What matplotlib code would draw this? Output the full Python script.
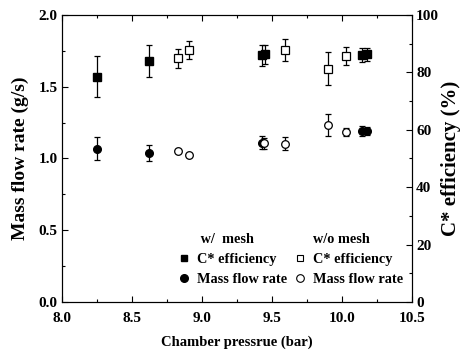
import matplotlib
matplotlib.use("Agg")
import matplotlib.pyplot as plt
from matplotlib.lines import Line2D

plt.rcParams['font.family'] = ['Liberation Serif', 'DejaVu Serif']
plt.rcParams['font.weight'] = 'bold'

# C* efficiency with mesh (%)
p_cw = [8.25, 8.62, 9.43, 9.45, 10.14, 10.18]
c_w = [78.5, 84.0, 86.0, 86.3, 86.0, 86.3]
c_w_err = [7.2, 5.7, 3.6, 3.4, 2.5, 2.3]

# C* efficiency without mesh (%)
p_co = [8.83, 8.91, 9.59, 9.90, 10.03]
c_o = [84.9, 87.8, 87.8, 81.3, 85.6]
c_o_err = [3.4, 3.3, 3.8, 5.8, 3.1]

# Mass flow rate with mesh (g/s)
p_mw = [8.25, 8.62, 9.43, 10.14, 10.18]
m_w = [1.068, 1.038, 1.110, 1.192, 1.192]
m_w_err = [0.080, 0.058, 0.045, 0.035, 0.030]

# Mass flow rate without mesh (g/s)
p_mo = [8.83, 8.91, 9.44, 9.59, 9.90, 10.03]
m_o = [1.052, 1.024, 1.105, 1.103, 1.233, 1.185]
m_o_err = [0.0, 0.0, 0.04, 0.045, 0.078, 0.030]

x_ticks = [8.0, 8.5, 9.0, 9.5, 10.0, 10.5]
x_labels = ['8.0', '8.5', '9.0', '9.5', '10.0', '10.5']
y_ticks = [0.0, 0.5, 1.0, 1.5, 2.0]
y_labels = ['0.0', '0.5', '1.0', '1.5', '2.0']
y2_ticks = [0, 20, 40, 60, 80, 100]
y2_labels = ['0', '20', '40', '60', '80', '100']

fig = plt.figure(figsize=(4.64, 3.59), dpi=100)
ax = fig.add_axes([0.1336, 0.1588, 0.7544, 0.7994])
ax2 = ax.twinx()

ms = 5.5
ekw = dict(ecolor='black', elinewidth=0.9, capsize=2.5, capthick=0.9, linestyle='none')

ax.errorbar(p_mw, m_w, yerr=m_w_err, marker='o', mfc='black', mec='black', ms=ms, **ekw)
ax.errorbar(p_mo, m_o, yerr=m_o_err, marker='o', mfc='white', mec='black', mew=0.9, ms=ms, **ekw)
ax2.errorbar(p_co, c_o, yerr=c_o_err, marker='s', mfc='white', mec='black', mew=0.9, ms=ms, **ekw)
ax2.errorbar(p_cw, c_w, yerr=c_w_err, marker='s', mfc='black', mec='black', ms=ms, **ekw)

ax.set_xticks(x_ticks)
ax.set_xticks([8.25, 8.75, 9.25, 9.75, 10.25], minor=True)
ax.set_xticklabels(x_labels, fontweight='bold')
ax.set_yticks(y_ticks)
ax.set_yticks([0.25, 0.75, 1.25, 1.75], minor=True)
ax.set_yticklabels(y_labels, fontweight='bold')
ax2.set_yticks(y2_ticks)
ax2.set_yticks([10, 30, 50, 70, 90], minor=True)
ax2.set_yticklabels(y2_labels, fontweight='bold')

ax.set_xlim(8.0, 10.5)
ax.set_ylim(0.0, 2.0)
ax2.set_ylim(0, 100)

ax.tick_params(axis='x', which='both', direction='in', top=True, labelsize=11, pad=7)
ax.tick_params(axis='y', which='both', direction='in', labelsize=11, pad=3)
ax2.tick_params(axis='y', which='both', direction='in', labelsize=11, pad=3)
for a in (ax, ax2):
    a.tick_params(which='major', length=4, width=0.8)
    a.tick_params(which='minor', length=2.5, width=0.8)

ax.set_xlabel('Chamber pressrue (bar)', fontsize=10.5, fontweight='bold', labelpad=8)
ax.set_ylabel('Mass flow rate (g/s)', fontsize=14, fontweight='bold', labelpad=7)
ax2.set_ylabel('C* efficiency (%)', fontsize=15, fontweight='bold', labelpad=1)

blank = Line2D([], [], linestyle='none', marker=None)
h_fs = Line2D([], [], linestyle='none', marker='s', mfc='black', mec='black', ms=5)
h_fc = Line2D([], [], linestyle='none', marker='o', mfc='black', mec='black', ms=5.5)
h_os = Line2D([], [], linestyle='none', marker='s', mfc='white', mec='black', mew=0.8, ms=5)
h_oc = Line2D([], [], linestyle='none', marker='o', mfc='white', mec='black', mew=0.8, ms=5.5)
handles = [blank, h_fs, h_fc, blank, h_os, h_oc]
labels = [' w/  mesh', 'C* efficiency', 'Mass flow rate', 'w/o mesh', 'C* efficiency', 'Mass flow rate']
leg = ax2.legend(handles, labels, ncol=2, loc='lower right', bbox_to_anchor=(0.975, 0.055),
                 frameon=False, prop={'family': 'Liberation Serif', 'weight': 'bold', 'size': 10.3},
                 handlelength=0.8, handletextpad=0.5, columnspacing=0.5, labelspacing=0.5,
                 borderaxespad=0.0, borderpad=0.0)

fig.savefig('out.png', dpi=100)
